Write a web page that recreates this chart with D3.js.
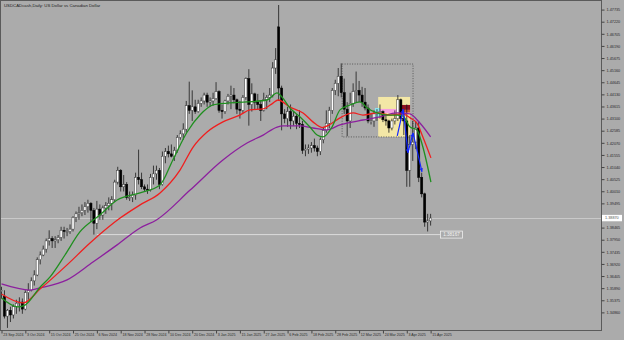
<!DOCTYPE html>
<html><head><meta charset="utf-8">
<script src="https://cdn.jsdelivr.net/npm/d3@7"></script>
<style>html,body{margin:0;padding:0;background:#ababab;}svg{display:block}</style>
</head><body><svg id="c" width="624" height="340"></svg>
<script>
// ---- data ----
const dates = ["09-23","09-24","09-25","09-26","09-27","09-30","10-01","10-02","10-03","10-04","10-07","10-08","10-09","10-10","10-11","10-14","10-15","10-16","10-17","10-18","10-21","10-22","10-23","10-24","10-25","10-28","10-29","10-30","10-31","11-01","11-04","11-05","11-06","11-07","11-08","11-11","11-12","11-13","11-14","11-15","11-18","11-19","11-20","11-21","11-22","11-25","11-26","11-27","11-28","11-29","12-02","12-03","12-04","12-05","12-06","12-09","12-10","12-11","12-12","12-13","12-16","12-17","12-18","12-19","12-20","12-23","12-24","12-26","12-27","12-30","12-31","01-02","01-03","01-06","01-07","01-08","01-09","01-10","01-13","01-14","01-15","01-16","01-17","01-20","01-21","01-22","01-23","01-24","01-27","01-28","01-29","01-30","01-31","02-03","02-04","02-05","02-06","02-07","02-10","02-11","02-12","02-13","02-14","02-17","02-18","02-19","02-20","02-21","02-24","02-25","02-26","02-27","02-28","03-03","03-04","03-05","03-06","03-07","03-10","03-11","03-12","03-13","03-14","03-17","03-18","03-19","03-20","03-21","03-24","03-25","03-26","03-27","03-28","03-31","04-01","04-02","04-03","04-04","04-07","04-08","04-09","04-10","04-11","04-14","04-15"];
const open = [1.3575,1.3555,1.3470,1.3495,1.3475,1.3510,1.3525,1.3530,1.3500,1.3570,1.3580,1.3620,1.3645,1.3710,1.3730,1.3755,1.3790,1.3800,1.3790,1.3795,1.3805,1.3835,1.3830,1.3830,1.3840,1.3890,1.3905,1.3910,1.3920,1.3935,1.3950,1.3920,1.3865,1.3925,1.3900,1.3930,1.3940,1.3950,1.3965,1.4040,1.4090,1.4020,1.4030,1.3975,1.3975,1.3985,1.4060,1.4050,1.4020,1.4010,1.4005,1.4060,1.4075,1.4090,1.4030,1.4150,1.4170,1.4160,1.4150,1.4175,1.4230,1.4245,1.4265,1.4365,1.4345,1.4360,1.4340,1.4375,1.4385,1.4410,1.4380,1.4385,1.4395,1.4425,1.4345,1.4340,1.4385,1.4405,1.4410,1.4390,1.4350,1.4345,1.4400,1.4480,1.4370,1.4415,1.4380,1.4370,1.4345,1.4390,1.4400,1.4410,1.4525,1.4700,1.4440,1.4330,1.4310,1.4340,1.4300,1.4320,1.4290,1.4285,1.4175,1.4180,1.4185,1.4195,1.4185,1.4170,1.4220,1.4260,1.4290,1.4345,1.4430,1.4460,1.4490,1.4420,1.4350,1.4300,1.4375,1.4425,1.4430,1.4410,1.4380,1.4355,1.4300,1.4300,1.4330,1.4335,1.4340,1.4305,1.4300,1.4270,1.4300,1.4310,1.4390,1.4310,1.4300,1.4090,1.4200,1.4210,1.4270,1.4060,1.3990,1.3870,1.3875];
const high = [1.3595,1.3580,1.3500,1.3510,1.3520,1.3540,1.3550,1.3545,1.3580,1.3610,1.3635,1.3665,1.3720,1.3745,1.3770,1.3800,1.3835,1.3810,1.3810,1.3815,1.3850,1.3850,1.3845,1.3860,1.3895,1.3915,1.3935,1.3945,1.3955,1.3965,1.3955,1.3930,1.3960,1.3945,1.3940,1.3955,1.3975,1.3980,1.4050,1.4105,1.4095,1.4070,1.4040,1.4000,1.4000,1.4080,1.4178,1.4080,1.4030,1.4030,1.4075,1.4110,1.4110,1.4100,1.4170,1.4185,1.4195,1.4200,1.4190,1.4240,1.4260,1.4290,1.4385,1.4467,1.4430,1.4390,1.4390,1.4400,1.4420,1.4420,1.4400,1.4420,1.4465,1.4430,1.4370,1.4390,1.4415,1.4450,1.4440,1.4395,1.4385,1.4410,1.4485,1.4520,1.4460,1.4420,1.4415,1.4385,1.4420,1.4410,1.4440,1.4550,1.4610,1.4793,1.4450,1.4350,1.4360,1.4370,1.4340,1.4330,1.4345,1.4300,1.4200,1.4200,1.4210,1.4225,1.4195,1.4230,1.4270,1.4345,1.4360,1.4440,1.4475,1.4525,1.4545,1.4480,1.4380,1.4420,1.4460,1.4510,1.4470,1.4445,1.4440,1.4370,1.4330,1.4345,1.4350,1.4370,1.4345,1.4325,1.4305,1.4310,1.4345,1.4410,1.4395,1.4350,1.4370,1.4240,1.4300,1.4300,1.4300,1.4080,1.3995,1.3905,1.3905];
const low = [1.3545,1.3460,1.3420,1.3445,1.3460,1.3480,1.3490,1.3480,1.3495,1.3540,1.3575,1.3600,1.3640,1.3690,1.3725,1.3740,1.3770,1.3760,1.3760,1.3780,1.3790,1.3800,1.3810,1.3820,1.3830,1.3870,1.3880,1.3895,1.3900,1.3910,1.3870,1.3817,1.3840,1.3880,1.3880,1.3905,1.3920,1.3920,1.3955,1.4030,1.4000,1.4000,1.3965,1.3960,1.3955,1.3965,1.4030,1.4010,1.4000,1.3990,1.4000,1.4030,1.4050,1.4010,1.4025,1.4120,1.4145,1.4145,1.4130,1.4165,1.4220,1.4220,1.4250,1.4330,1.4300,1.4330,1.4335,1.4360,1.4370,1.4360,1.4360,1.4365,1.4390,1.4335,1.4310,1.4330,1.4370,1.4350,1.4375,1.4330,1.4310,1.4335,1.4390,1.4280,1.4340,1.4350,1.4350,1.4300,1.4340,1.4350,1.4380,1.4400,1.4500,1.4385,1.4260,1.4290,1.4275,1.4265,1.4280,1.4265,1.4270,1.4160,1.4150,1.4160,1.4165,1.4170,1.4150,1.4155,1.4205,1.4250,1.4270,1.4330,1.4410,1.4405,1.4400,1.4330,1.4235,1.4270,1.4360,1.4380,1.4380,1.4360,1.4345,1.4290,1.4285,1.4275,1.4300,1.4310,1.4295,1.4280,1.4250,1.4260,1.4285,1.4300,1.4300,1.4240,1.4020,1.4020,1.4130,1.4180,1.4040,1.3975,1.3850,1.3830,1.3855];
const close = [1.3580,1.3470,1.3495,1.3475,1.3510,1.3525,1.3530,1.3500,1.3570,1.3580,1.3620,1.3645,1.3710,1.3730,1.3755,1.3790,1.3800,1.3790,1.3795,1.3805,1.3835,1.3830,1.3830,1.3840,1.3890,1.3905,1.3910,1.3920,1.3935,1.3950,1.3920,1.3865,1.3925,1.3900,1.3930,1.3940,1.3950,1.3965,1.4040,1.4090,1.4020,1.4030,1.3975,1.3975,1.3985,1.4060,1.4050,1.4020,1.4010,1.4005,1.4060,1.4075,1.4090,1.4030,1.4150,1.4170,1.4160,1.4150,1.4175,1.4230,1.4245,1.4265,1.4365,1.4345,1.4360,1.4340,1.4375,1.4385,1.4410,1.4380,1.4385,1.4395,1.4425,1.4345,1.4340,1.4385,1.4405,1.4410,1.4390,1.4350,1.4345,1.4400,1.4480,1.4370,1.4415,1.4380,1.4370,1.4345,1.4390,1.4400,1.4410,1.4525,1.4560,1.4440,1.4330,1.4310,1.4340,1.4300,1.4320,1.4290,1.4285,1.4175,1.4180,1.4185,1.4195,1.4185,1.4170,1.4220,1.4260,1.4290,1.4345,1.4430,1.4460,1.4490,1.4420,1.4350,1.4300,1.4375,1.4425,1.4430,1.4410,1.4380,1.4355,1.4300,1.4300,1.4330,1.4335,1.4340,1.4305,1.4300,1.4270,1.4300,1.4310,1.4390,1.4310,1.4300,1.4090,1.4200,1.4210,1.4270,1.4060,1.3990,1.3870,1.3875,1.3887];

// moving averages (bar index, price)
const greenIdx = [0,5.5,7.9,13,16.3,21.3,26.3,33,38.8,46.5,53.2,57.5,62.3,66.6,71,75.7,82.4,89.1,92.5,94.1,96.8,100.2,103.5,105.9,107.9,110.9,113.6,117,120.3,122.7,126,129.4,132.7,134.7,137.1,139.4,141.4,144.1];
const greenVal = [1.3547,1.3509,1.3517,1.3594,1.3637,1.3730,1.3828,1.3900,1.3964,1.3994,1.4028,1.4134,1.4253,1.4325,1.4368,1.4376,1.4381,1.4389,1.4419,1.4402,1.4355,1.4317,1.4274,1.4240,1.4232,1.4274,1.4347,1.4368,1.4381,1.4355,1.4334,1.4325,1.4325,1.4321,1.4274,1.4262,1.4189,1.4040];
const redIdx = [0,7.2,13,22,29.7,39.8,46.5,53.2,59.9,64.3,69,74.3,80,83.4,87.8,91.1,92.8,96.8,101.2,104.5,107.6,110.2,113.6,118,121.3,126,130.4,134.7,137.1,139.4,141.4,144.1];
const redVal = [1.3564,1.3526,1.3586,1.3688,1.3781,1.3887,1.3943,1.3994,1.4091,1.4189,1.4253,1.4296,1.4325,1.4347,1.4351,1.4376,1.4389,1.4359,1.4334,1.4296,1.4272,1.4285,1.4313,1.4334,1.4325,1.4334,1.4325,1.4330,1.4313,1.4291,1.4232,1.4143];
const purpleIdx = [0,9.6,13,22,30.7,38.8,46.5,52,63.3,74.3,82.4,87.8,92.5,94.5,100.2,104.5,109.2,113.6,116,121.3,127,132.7,137,140.4,144];
const purpleVal = [1.3607,1.3581,1.3590,1.3624,1.3700,1.3773,1.3845,1.3879,1.4006,1.4134,1.4206,1.4240,1.4274,1.4279,1.4279,1.4270,1.4262,1.4283,1.4291,1.4304,1.4317,1.4334,1.4330,1.4291,1.4232];

const xTickIdx = [0,8,16,24,32,40,48,56,64,72,80,88,96,104,112,120,128,136,144];
const xTickLabels = ["23 Sep 2024","3 Oct 2024","15 Oct 2024","25 Oct 2024","6 Nov 2024","18 Nov 2024","28 Nov 2024","10 Dec 2024","20 Dec 2024","3 Jan 2025","15 Jan 2025","27 Jan 2025","6 Feb 2025","18 Feb 2025","28 Feb 2025","12 Mar 2025","24 Mar 2025","3 Apr 2025","15 Apr 2025"];
// 1.38980 sits under the current-price box in the reference, so it is not shown
const yTicks = [1.34860,1.35375,1.35890,1.36405,1.36920,1.37435,1.37950,1.38465,1.39495,1.40010,1.40525,1.41040,1.41555,1.42070,1.42585,1.43100,1.43615,1.44130,1.44645,1.45160,1.45675,1.46190,1.46705,1.47220,1.47735];

const lastPrice = 1.38870;
const hLinePrice = 1.38167, hLineFrom = 32, hLineTo = 147.3;
// annotation objects in (bar index, price)
const dottedBox = [114.3,138.1,1.4542,1.4232];
const yellowBox = [126.4,137.1,1.4402,1.4232];
const cyanBox = [125.3,127.0,1.4355,1.4317];
const pinkBox = [127.0,137.1,1.4351,1.4334];
const maroonBox = [134.0,137.1,1.4368,1.4347];
const orangeBox = [134.0,137.1,1.4347,1.4336];
const zigIdx = [132.8,134.8,136.4,138.1,141.1];
const zigVal = [1.4236,1.4350,1.4164,1.4249,1.4083];

// ---- drawing ----
const W = 624, H = 340, plotR = 601, plotB = 330;
const svg = d3.select("#c");
const x = d3.scaleLinear().domain([0,144]).range([1.5, 1.5 + 144*2.98]);
const y = d3.scaleLinear().domain([1.3420,1.4793]).range([327.9, 5]);
const FONT = "Liberation Sans, Arial, sans-serif";

svg.append("rect").attr("width",W).attr("height",H).attr("fill","#ababab");
svg.append("clipPath").attr("id","clip").append("rect").attr("x",0).attr("y",0).attr("width",plotR).attr("height",plotB);
const g = svg.append("g").attr("clip-path","url(#clip)");

// current price line
g.append("line").attr("x1",0).attr("x2",plotR).attr("y1",Math.round(y(lastPrice))+0.5).attr("y2",Math.round(y(lastPrice))+0.5)
  .attr("stroke","#c9c9c9").attr("stroke-width",1);

// horizontal level
g.append("line").attr("x1",x(hLineFrom)).attr("x2",x(hLineTo)).attr("y1",y(hLinePrice)).attr("y2",y(hLinePrice))
  .attr("stroke","#dcdcdc").attr("stroke-width",1);

function box(b, fill, stroke, dash){
  const r = g.append("rect").attr("x",x(b[0])).attr("y",y(b[2])).attr("width",x(b[1])-x(b[0])).attr("height",y(b[3])-y(b[2]))
    .attr("fill",fill).attr("stroke",stroke||"none");
  if(dash) r.attr("stroke-dasharray",dash).attr("stroke-width",0.8);
  return r;
}
box(yellowBox,"#f3e7a6");
box(cyanBox,"#8fe6ef");
box(pinkBox,"#f59fe0");
box(maroonBox,"#8e1020");
box(orangeBox,"#c9582a");
box(dottedBox,"none","#444","1,1.5");

// candles
const idx = d3.range(open.length);
const cw = 2.2;
g.selectAll("line.wick").data(idx).join("line").attr("class","wick")
  .attr("x1",i=>x(i)).attr("x2",i=>x(i)).attr("y1",i=>y(high[i])).attr("y2",i=>y(low[i]))
  .attr("stroke","#1a1a1a").attr("stroke-width",0.8);
g.selectAll("rect.body").data(idx).join("rect").attr("class","body")
  .attr("x",i=>x(i)-cw/2).attr("width",cw)
  .attr("y",i=>y(Math.max(open[i],close[i])))
  .attr("height",i=>Math.max(0.8,Math.abs(y(open[i])-y(close[i]))))
  .attr("fill",i=>close[i]>=open[i]?"#ffffff":"#000000")
  .attr("stroke",i=>close[i]>=open[i]?"#3a3a3a":"#000").attr("stroke-width",0.5);

// moving averages
function ma(ix, vals, color){
  const line = d3.line().x(d=>x(d[0])).y(d=>y(d[1])).curve(d3.curveMonotoneX);
  g.append("path").datum(ix.map((v,k)=>[v,vals[k]])).attr("d",line)
    .attr("fill","none").attr("stroke",color).attr("stroke-width",1.3);
}
ma(purpleIdx,purpleVal,"#8c1f9e");
ma(redIdx,redVal,"#f01e1e");
ma(greenIdx,greenVal,"#1f8f1f");

// zigzag
const zig = zigIdx.map((v,k)=>[v,zigVal[k]]);
g.append("path").datum(zig).attr("d",d3.line().x(d=>x(d[0])).y(d=>y(d[1])))
  .attr("fill","none").attr("stroke","#1428ff").attr("stroke-width",1.2);
zig.slice(1).forEach((p,k)=>{
  const a = zig[k]; const px=x(p[0]), py=y(p[1]), ax=x(a[0]), ay=y(a[1]);
  const ang = Math.atan2(py-ay, px-ax), L=4, s=0.45;
  g.append("path").attr("d",`M${px},${py}L${px-L*Math.cos(ang-s)},${py-L*Math.sin(ang-s)}L${px-L*Math.cos(ang+s)},${py-L*Math.sin(ang+s)}Z`)
    .attr("fill","#1428ff");
});

// level label
const lx = x(hLineTo), ly = y(hLinePrice);
svg.append("rect").attr("x",lx).attr("y",ly-3.5).attr("width",22).attr("height",7).attr("fill","#ababab").attr("stroke","#eeeeee").attr("stroke-width",0.8);
svg.append("text").attr("x",lx+11).attr("y",ly+1.6).attr("text-anchor","middle").attr("font-family",FONT).attr("font-size",4.6).attr("fill","#f4f4f4").text(hLinePrice.toFixed(5));

// frame
svg.append("rect").attr("x",0.5).attr("y",0.5).attr("width",plotR).attr("height",plotB).attr("fill","none").attr("stroke","#5a5a5a").attr("stroke-width",1);

// y axis
const yAxis = d3.axisRight(y).tickValues(yTicks).tickSize(3).tickFormat(d=>d.toFixed(5));
const ya = svg.append("g").attr("transform",`translate(${plotR+0.5},0)`).call(yAxis);
ya.select(".domain").remove();
ya.selectAll("line").attr("stroke","#444");
ya.selectAll("text").attr("font-family",FONT).attr("font-size",3.8).attr("fill","#2a2a2a").attr("x",5);

// current price box on axis
const cy = y(lastPrice);
svg.append("rect").attr("x",plotR+1).attr("y",cy-3.2).attr("width",20).attr("height",6.4).attr("fill","#ffffff");
svg.append("text").attr("x",plotR+4).attr("y",cy+1.4).attr("font-family",FONT).attr("font-size",3.8).attr("fill","#555").text(lastPrice.toFixed(5));

// x axis
const xAxis = d3.axisBottom(x).tickValues(xTickIdx).tickSize(3).tickFormat((d,k)=>xTickLabels[k]);
const xa = svg.append("g").attr("transform",`translate(0,${plotB+0.5})`).call(xAxis);
xa.select(".domain").remove();
xa.selectAll("line").attr("stroke","#444");
xa.selectAll("text").attr("font-family",FONT).attr("font-size",3.6).attr("fill","#2a2a2a")
  .attr("text-anchor","start").attr("dx",1.2).attr("dy",-0.6);

// title
svg.append("text").attr("x",4).attr("y",7).attr("font-family",FONT).attr("font-size",4.3).attr("fill","#1e1e1e")
  .text("USDCADcash,Daily:  US Dollar vs Canadian Dollar");
</script></body></html>
